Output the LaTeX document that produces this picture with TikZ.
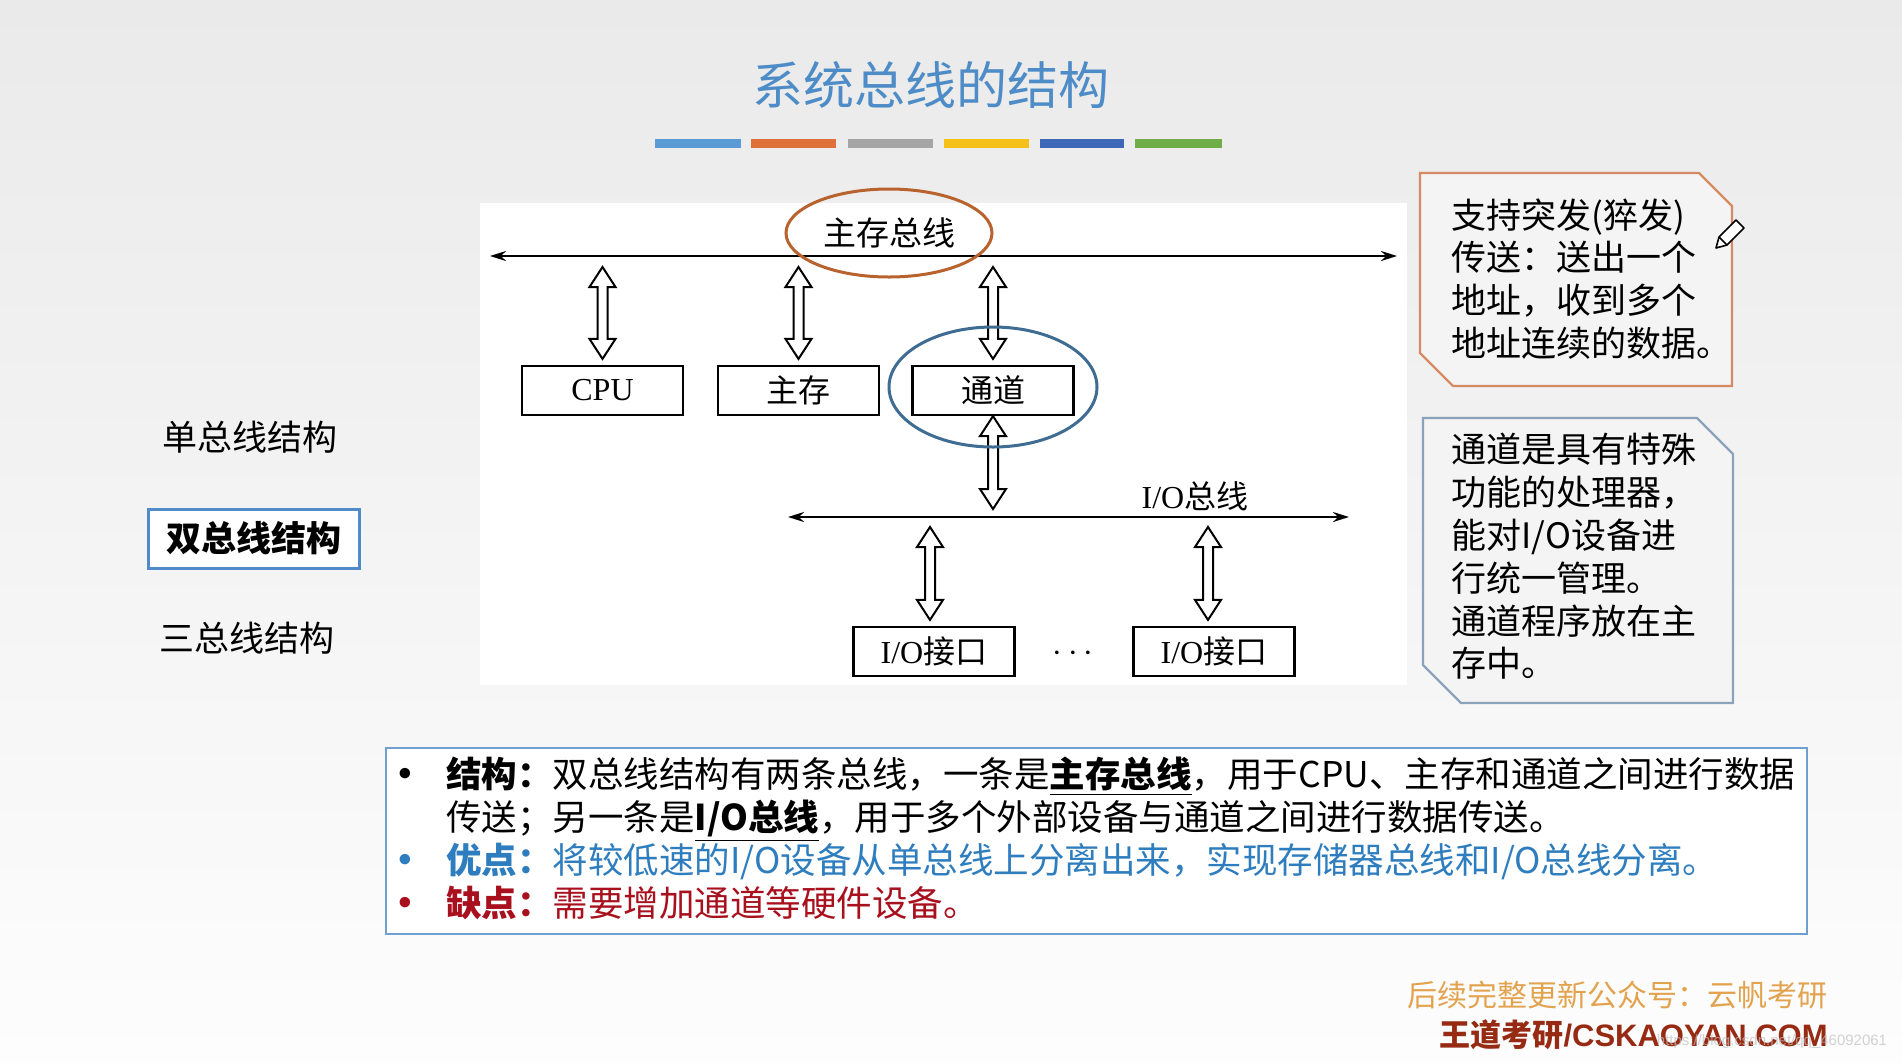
\documentclass[tikz,border=0pt]{standalone}
\usepackage{fontspec}
\usepackage{graphicx}
\setmainfont{Noto Sans CJK SC}
\newfontfamily\serifl{Liberation Serif}
\newfontfamily\arialf{Liberation Sans}
\usetikzlibrary{arrows.meta,calc,shapes.geometric}
\definecolor{bgtop}{HTML}{EAEAEA}
\definecolor{bgbot}{HTML}{FDFDFD}
\definecolor{titleblue}{HTML}{4E8CC7}
\definecolor{barA}{HTML}{5B9BD5}
\definecolor{barB}{HTML}{E0703A}
\definecolor{barC}{HTML}{A5A5A5}
\definecolor{barD}{HTML}{F5C018}
\definecolor{barE}{HTML}{4068B8}
\definecolor{barF}{HTML}{6EAD48}
\definecolor{ellorange}{HTML}{B8622E}
\definecolor{circblue}{HTML}{3F6C92}
\definecolor{selblue}{HTML}{4F8BC9}
\definecolor{noteorange}{HTML}{D58A62}
\definecolor{noteblue}{HTML}{8AA3BA}
\definecolor{notefill}{HTML}{F4F4F4}
\definecolor{frameblue}{HTML}{6FA0D0}
\definecolor{advblue}{HTML}{2E7DBE}
\definecolor{disred}{HTML}{A8101E}
\definecolor{wmorange}{HTML}{E2A24E}
\definecolor{wmred}{HTML}{972A12}
\newcommand\bul{\makebox[27pt][l]{\hspace*{-6pt}\raisebox{-0.12em}{\scalebox{1.4}{•}}}}
\newcommand\hollowarrow[2]{%
  \draw[harrow] let \p1=(#1), \p2=(#2) in
    (\x1,\y1) -- (\x1+6.5pt,\y1-10pt) -- (\x1+2.5pt,\y1-10pt) --
    (\x1+2.5pt,\y2+10pt) -- (\x1+6.5pt,\y2+10pt) -- (\x1,\y2) --
    (\x1-6.5pt,\y2+10pt) -- (\x1-2.5pt,\y2+10pt) --
    (\x1-2.5pt,\y1-10pt) -- (\x1-6.5pt,\y1-10pt) -- cycle;}
\begin{document}
\begin{tikzpicture}[x=0.5pt,y=-0.5pt,
  every node/.style={inner sep=0pt},
  dbox/.style={draw=black,line width=1.1pt,fill=white,minimum width=80.5pt,minimum height=24.5pt,font=\fontsize{16}{16}\selectfont},
  bus/.style={line width=1.2pt,{Stealth[length=8pt,width=5pt]}-{Stealth[length=8pt,width=5pt]}},
  harrow/.style={draw=black,fill=white,line width=1pt,line join=miter},
  lbl/.style={font=\fontsize{17.5}{17.5}\selectfont},
  notetext/.style={anchor=north west,align=left,font=\fontsize{17.5}{21.4}\selectfont},
  notebox/.style={fill=notefill,line width=1.1pt,line join=miter}]
\useasboundingbox (0,0) rectangle (1902,1062);
% background
\shade[top color=bgtop,bottom color=bgbot] (0,0) rectangle (1902,1062);
% title and bars
\node[font=\fontsize{25.5}{25.5}\selectfont,text=titleblue] (title) at (931,85) {系统总线的结构};
\fill[barA] (655,139) rectangle (741,148);
\fill[barB] (751,139) rectangle (836,148);
\fill[barC] (848,139) rectangle (933,148);
\fill[barD] (944,139) rectangle (1029,148);
\fill[barE] (1040,139) rectangle (1124,148);
\fill[barF] (1135,139) rectangle (1222,148);
% diagram area
\fill[white] (480,203) rectangle (1407,685);
% boxes
\node[dbox] (cpu) at (602.5,390.5) {\serifl CPU};
\node[dbox] (mem) at (798.5,390.5) {主存};
\node[dbox] (ch) at (993,390.5) {通道};
\node[dbox] (io1) at (934,651.5) {{\serifl I/O}接口};
\node[dbox] (io2) at (1214,651.5) {{\serifl I/O}接口};
\node[font=\fontsize{16}{16}\selectfont] (dots) at (1073,654) {$\cdots$};
% buses
\coordinate (mbL) at (490,256);
\coordinate (mbR) at (1397,256);
\draw[bus] (mbL) -- (mbR);
\coordinate (ioL) at (788,517);
\coordinate (ioR) at (1349,517);
\draw[bus] (ioL) -- (ioR);
\node[font=\fontsize{16}{16}\selectfont] (iolabel) at (1195,496) {{\serifl I/O}总线};
% hollow double arrows
\coordinate (cpuT) at (602.5,267);
\coordinate (cpuB) at ($(cpu.north)+(0,-6)$);
\coordinate (memT) at (798.5,267);
\coordinate (memB) at ($(mem.north)+(0,-6)$);
\coordinate (chT) at (993,267);
\coordinate (chB) at ($(ch.north)+(0,-6)$);
\coordinate (chS) at (ch.south);
\coordinate (chIO) at (993,509);
\coordinate (io1T) at (930,527);
\coordinate (io1B) at ($(io1.north)+(-4,-6)$);
\coordinate (io2T) at (1208,527);
\coordinate (io2B) at ($(io2.north)+(-6,-6)$);
\hollowarrow{cpuT}{cpuB}
\hollowarrow{memT}{memB}
\hollowarrow{chT}{chB}
\hollowarrow{chS}{chIO}
\hollowarrow{io1T}{io1B}
\hollowarrow{io2T}{io2B}
% highlight ellipses
\node[ellipse,draw=ellorange,line width=1.5pt,minimum width=103pt,minimum height=44pt,font=\fontsize{16.5}{16.5}\selectfont] (mblabel) at (889,233) {主存总线};
\draw[circblue,line width=1.5pt] (993,387) ellipse [x radius=52pt,y radius=30pt];
% left labels
\node[lbl] (single) at (250,437) {单总线结构};
\node[lbl,draw=selblue,line width=1.5pt,fill=white,minimum width=105.5pt,minimum height=29.5pt,font=\fontsize{17.5}{17.5}\selectfont\bfseries] (double) at (253.5,538.5) {双总线结构};
\node[lbl] (triple) at (247,638) {三总线结构};
% note box 1
\draw[notebox,draw=noteorange] (1420,173) -- (1699,173) -- (1732,206) -- (1732,386) -- (1453,386) -- (1420,353) -- cycle;
\node[notetext] (n1) at (1451,198) {支持突发(猝发)\\传送：送出一个\\地址，收到多个\\地址连续的数据。};
\draw[line width=0.8pt,fill=white,line join=round] (1716,248) -- (1719,237) -- (1736,220) -- (1744,228) -- (1727,245) -- cycle;
\draw[line width=0.8pt] (1719,237) -- (1727,245);
% note box 2
\draw[notebox,draw=noteblue] (1423,418) -- (1697,418) -- (1733,454) -- (1733,703) -- (1461,703) -- (1423,665) -- cycle;
\node[notetext] (n2) at (1451,433) {通道是具有特殊\\功能的处理器，\\能对I/O设备进\\行统一管理。\\通道程序放在主\\存中。};
% bottom text frame
\draw[frameblue,line width=1pt,fill=white] (386,748) rectangle (1807,934);
\node[anchor=north west,align=left,font=\fontsize{17.75}{21.5}\selectfont] (bt) at (392,757) {%
\bul\textbf{结构：}双总线结构有两条总线，一条是\textbf{\underline{主存总线}}，用于CPU、主存和通道之间进行数据\\
\hspace*{27pt}传送；另一条是\textbf{\underline{I/O总线}}，用于多个外部设备与通道之间进行数据传送。\\
{\color{advblue}\bul\textbf{优点：}将较低速的I/O设备从单总线上分离出来，实现存储器总线和I/O总线分离。}\\
{\color{disred}\bul\textbf{缺点：}需要增加通道等硬件设备。}};
% watermark
\node[text=wmorange,font=\fontsize{15}{15}\selectfont] (wm1) at (1617,995) {后续完整更新公众号：云帆考研};
\node[anchor=east,text=wmred,font=\fontsize{15.5}{15.5}\selectfont\bfseries] (wm2) at (1828,1035) {王道考研{\arialf /CSKAOYAN.COM}};
\node[text=black!25,opacity=0.7,font=\arialf\fontsize{7.5}{7.5}\selectfont] (url) at (1772,1042) {https://blog.csdn.net/qq\_46092061};
\end{tikzpicture}
\end{document}
